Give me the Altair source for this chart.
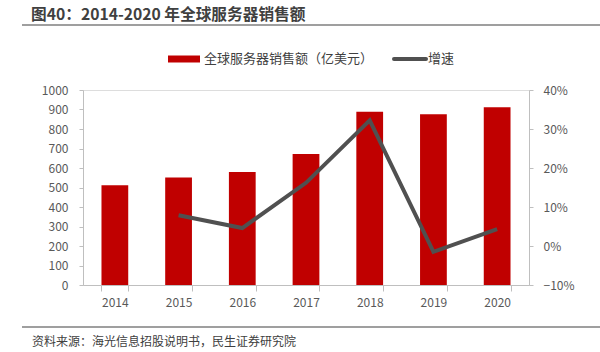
import altair as alt
import pandas as pd

years = ["2014", "2015", "2016", "2017", "2018", "2019", "2020"]
sales = [511, 551, 579, 672, 888, 876, 912]
growth = [None, 0.079, 0.046, 0.162, 0.322, -0.015, 0.043]

title_text = "图40：2014-2020 年全球服务器销售额"
source_text = "资料来源：海光信息招股说明书，民生证券研究院"
legend_bar = "全球服务器销售额（亿美元）"
legend_line = "增速"

FONT = "Noto Sans CJK SC"
AXIS_GREY = "#bfbfbf"
LABEL = "#595959"
df = pd.DataFrame({"year": years, "sales": sales, "growth": growth})
one = pd.DataFrame({"a": [0]})

x_enc = alt.X("year:N", sort=years, title=None,
              scale=alt.Scale(paddingInner=0.58, paddingOuter=0.29),
              axis=alt.Axis(labelAngle=0, tickBand="extent", tickSize=6,
                            domainColor=AXIS_GREY, tickColor=AXIS_GREY,
                            labelColor=LABEL, labelFontSize=12, labelFont=FONT,
                            labelPadding=6))

bars = alt.Chart(df).mark_bar(color="#C00000").encode(
    x=x_enc,
    y=alt.Y("sales:Q", title=None,
            scale=alt.Scale(domain=[0, 1000], nice=False),
            axis=alt.Axis(orient="left", values=list(range(0, 1001, 100)), grid=False,
                          format="d", tickSize=4, labelPadding=11,
                          domainColor=AXIS_GREY, tickColor=AXIS_GREY,
                          labelColor=LABEL, labelFontSize=12, labelFont=FONT)),
)

line = alt.Chart(df).transform_filter("datum.growth != null").mark_line(
    color="#505050", strokeWidth=4).encode(
    x=alt.X("year:N", sort=years),
    y=alt.Y("growth:Q", title=None,
            scale=alt.Scale(domain=[-0.1, 0.4], nice=False),
            axis=alt.Axis(orient="right", values=[-0.1, 0, 0.1, 0.2, 0.3, 0.4],
                          format=".0%", grid=False, tickSize=4, labelPadding=10,
                          domainColor=AXIS_GREY, tickColor=AXIS_GREY,
                          labelColor=LABEL, labelFontSize=12, labelFont=FONT)),
)

base = alt.Chart(one)
title = base.mark_text(align="left", baseline="alphabetic", font=FONT, fontSize=15.7,
                       fontWeight="bold", color="#404040").encode(
    x=alt.value(-52), y=alt.value(-70), text=alt.value(title_text))
title_rule = base.mark_rule(color="#7f7f7f", strokeWidth=1.5).encode(
    x=alt.value(-61), x2=alt.value(517), y=alt.value(-65))
foot_rule = base.mark_rule(color="#7f7f7f", strokeWidth=1.5).encode(
    x=alt.value(-61), x2=alt.value(517), y=alt.value(237))
source = base.mark_text(align="left", baseline="middle", font=FONT, fontSize=12,
                        color="#404040").encode(
    x=alt.value(-51), y=alt.value(252), text=alt.value(source_text))

leg_rect = base.mark_rect(color="#C00000").encode(
    x=alt.value(85), x2=alt.value(117), y=alt.value(-34.5), y2=alt.value(-27.5))
leg_text1 = base.mark_text(align="left", baseline="middle", font=FONT, fontSize=13,
                           color="#404040").encode(
    x=alt.value(121), y=alt.value(-31), text=alt.value(legend_bar))
leg_line = base.mark_rule(color="#505050", strokeWidth=4, strokeCap="round").encode(
    x=alt.value(311), x2=alt.value(343), y=alt.value(-31))
leg_text2 = base.mark_text(align="left", baseline="middle", font=FONT, fontSize=13,
                           color="#404040").encode(
    x=alt.value(345), y=alt.value(-31), text=alt.value(legend_line))

chart = alt.layer(bars, line, title, title_rule, foot_rule, source,
                  leg_rect, leg_text1, leg_line, leg_text2).resolve_scale(
    y="independent").properties(
    width=446, height=195,
    autosize=alt.AutoSizeParams(type="none"),
    padding={"left": 83, "top": 90, "right": 71, "bottom": 67},
).configure_view(stroke=None).configure(background="white")

chart.save("out.html", embed_options={"renderer": "svg", "actions": False})
